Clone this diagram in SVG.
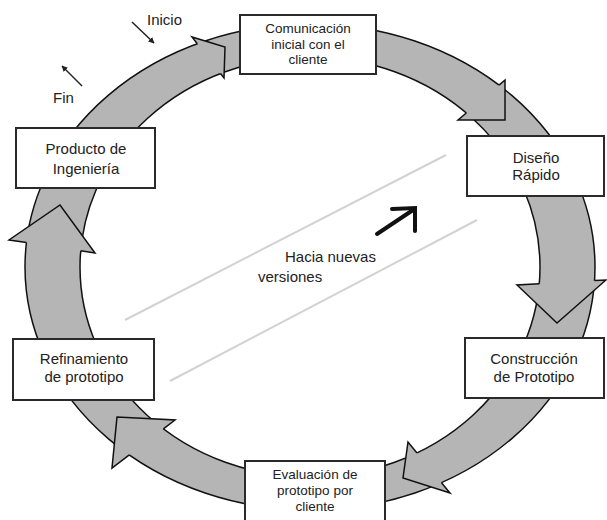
<svg xmlns="http://www.w3.org/2000/svg" width="607" height="520" viewBox="0 0 607 520">
<style>
.band{fill:#b5b5b5;stroke:#111;stroke-width:1.5;fill-rule:evenodd}
.hf{fill:#b5b5b5;stroke:none}
.hs{fill:none;stroke:#111;stroke-width:1.5;stroke-linejoin:miter}
.box{fill:#fff;stroke:#2a2a2a;stroke-width:2}
.t{font-family:"Liberation Sans",Arial,sans-serif;font-size:15px;fill:#222;text-anchor:middle}
.ts{font-size:13.5px}
.tl{font-family:"Liberation Sans",Arial,sans-serif;font-size:15px;fill:#222}
.guide{stroke:#d2d2d2;stroke-width:2;fill:none}
.small{stroke:#222;stroke-width:1.5;fill:none}
</style>
<defs>
<marker id="ah" viewBox="0 0 10 10" refX="9" refY="5" markerWidth="6" markerHeight="6" orient="auto" markerUnits="userSpaceOnUse">
<path d="M0,0 L10,5 L0,10 z" fill="#222"/>
</marker>
</defs>
<rect width="607" height="520" fill="#fff"/>
<g id="connectors">
<path class="band" d="M25,267 a285,243 0 1,0 570,0 a285,243 0 1,0 -570,0 Z M80,267 a230,210 0 1,0 460,0 a230,210 0 1,0 -460,0 Z"/>
<polygon class="hf" points="192,37 225,47 224,78"/>
<polyline class="hs" points="197.3,43.8 192,37 225,47 224,78 220.5,73.5"/>
<polygon class="hf" points="505,80 505,120 458,120"/>
<polyline class="hs" points="499,85.1 505,80 505,120 458,120 466.3,113"/>
<polygon class="hf" points="606,280 557,323 517,285"/>
<polyline class="hs" points="594.6,280.6 606,280 557,323 517,285 539.3,283.8"/>
<polygon class="hf" points="450,493 403,478 408,442"/>
<polyline class="hs" points="441.5,482.7 450,493 403,478 408,442 417,452.9"/>
<polygon class="hf" points="112,468 117,417 175,420"/>
<polyline class="hs" points="129.3,454.8 112,468 117,417 175,420 163.4,428.8"/>
<polygon class="hf" points="9,240 60,205 95,253"/>
<polyline class="hs" points="26.5,242.6 9,240 60,205 95,253 80.7,250.8"/>
<line class="small" x1="132" y1="22" x2="154" y2="43" marker-end="url(#ah)"/>
<line class="small" x1="82" y1="86" x2="62" y2="66" marker-end="url(#ah)"/>
<line class="guide" x1="125" y1="320" x2="446" y2="155"/>
<line class="guide" x1="170" y1="381" x2="477" y2="220"/>
<line x1="377" y1="234" x2="413" y2="210" stroke="#111" stroke-width="4" stroke-linecap="round"/>
<polyline points="392,209 415,208 415,231" fill="none" stroke="#111" stroke-width="4" stroke-linecap="round" stroke-linejoin="miter"/>
</g>
<g id="comunicacion">
<rect class="box" x="240" y="15" width="136" height="59"/>
<text class="t ts" x="308" y="33">Comunicación</text>
<text class="t ts" x="308" y="48.5">inicial con el</text>
<text class="t ts" x="308" y="64">cliente</text>
</g>
<g id="diseno">
<rect class="box" x="467" y="136" width="137" height="60"/>
<text class="t" x="536" y="163">Diseño</text>
<text class="t" x="536" y="180">Rápido</text>
</g>
<g id="construccion">
<rect class="box" x="465" y="338" width="139" height="60"/>
<text class="t" x="534" y="364">Construcción</text>
<text class="t" x="534" y="382">de Prototipo</text>
</g>
<g id="evaluacion">
<rect class="box" x="245" y="461" width="140" height="62"/>
<text class="t ts" x="315" y="479">Evaluación de</text>
<text class="t ts" x="315" y="495">prototipo por</text>
<text class="t ts" x="315" y="511">cliente</text>
</g>
<g id="refinamiento">
<rect class="box" x="13" y="339" width="141" height="61"/>
<text class="t" x="84" y="364">Refinamiento</text>
<text class="t" x="84" y="382">de prototipo</text>
</g>
<g id="producto">
<rect class="box" x="16" y="128" width="139" height="60"/>
<text class="t" x="86" y="154">Producto de</text>
<text class="t" x="86" y="174">Ingeniería</text>
</g>
<g id="labels">
<text class="tl" x="147" y="25">Inicio</text>
<text class="tl" x="53" y="103">Fin</text>
<text class="tl" x="285" y="262">Hacia nuevas</text>
<text class="tl" x="258" y="282">versiones</text>
</g>
</svg>
